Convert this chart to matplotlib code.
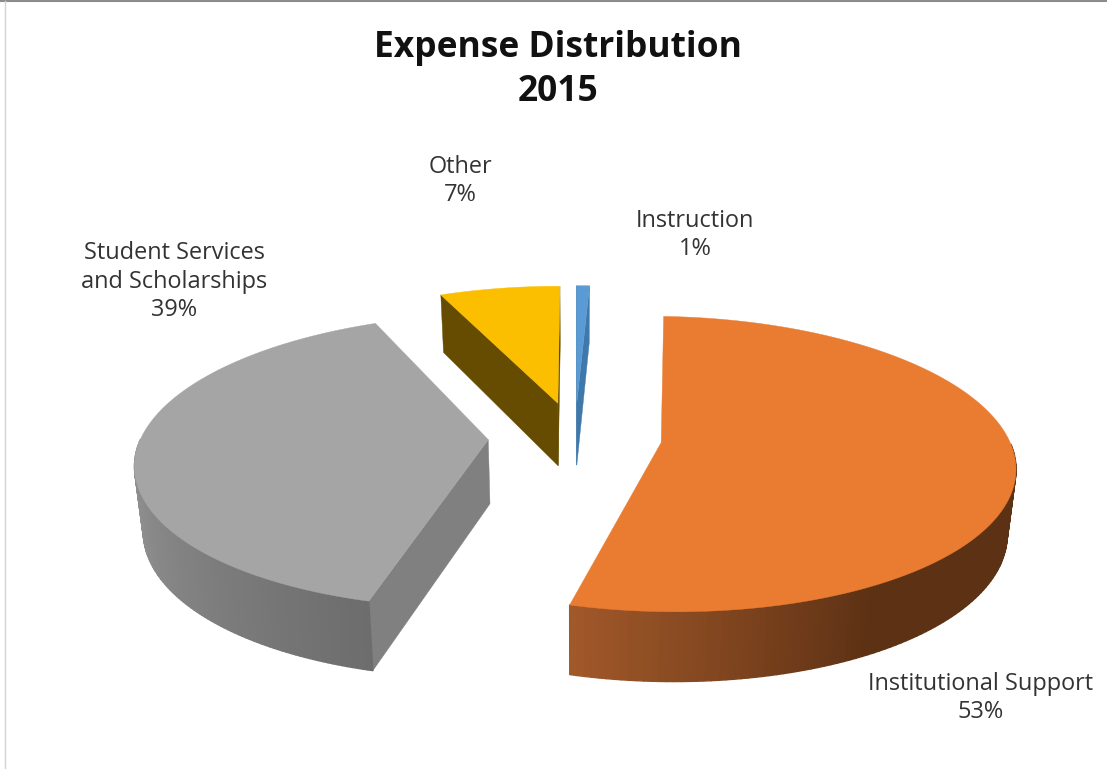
import numpy as np
import matplotlib
matplotlib.use("Agg")
import matplotlib.pyplot as plt
from matplotlib.colors import to_rgb
from matplotlib.collections import PolyCollection

plt.rcParams['font.family'] = ['Open Sans', 'DejaVu Sans']

categories = ['Instruction', 'Institutional Support', 'Student Services\nand Scholarships', 'Other']
# the labels round them to 1, 53, 39, 7
percents = [0.7, 53.49, 39.25, 6.56]
top_colors = ['#5b9bd5', '#ea7c31', '#a5a5a5', '#fbbf00']
cut_colors = ['#3f78ab', '#5d3114', '#808080', '#664c00']
rim_light = ['#3f78ab', '#a3592a', '#9c9c9c', '#664c00']
rim_dark = ['#3f78ab', '#5d3114', '#6d6d6d', '#664c00']
# angle range (degrees) over which the rim goes from dark to light
rim_fade = [(0, 360), (150, 195), (195, 275), (0, 360)]
label_pos = [(695, 235), (981, 698), (174.5, 281.5), (460, 181)]

# projection of the pie plane on to the picture
cx, cy = 575, 437
ax_a, ax_b = 347, 143
persp = 0.145
explode = 0.25
depth = 64


def project(x, y, z=0.0):
    w = 1 + persp * y
    shrink = 1 - 0.02 * z
    px = cx + ax_a * x / w * shrink
    py = cy - ax_b * y / w + z * depth * (1 - 0.6 * persp * y)
    return px, py


def faces_viewer(apex, rim, inner):
    # a cut face shows when the slice lies on the far side of its edge from the extrusion
    dx, dy = rim[0] - apex[0], rim[1] - apex[1]
    down = dx * 1.0
    side = dx * (inner[1] - apex[1]) - dy * (inner[0] - apex[0])
    return down * side < 0


fig = plt.figure(figsize=(11.07, 7.69), dpi=100)
ax = fig.add_axes([0, 0, 1, 1])
ax.set_xlim(0, 1107)
ax.set_ylim(769, 0)
ax.axis('off')

# picture frame bits left from the screenshot
ax.plot([0, 1107], [1, 1], color='#8c8c8c', lw=1.5)
ax.plot([4.5, 4.5], [1, 769], color='#d4d4d4', lw=1)

ends = np.cumsum(percents) * 3.6
starts = ends - np.array(percents) * 3.6

for i in range(len(percents)):
    a0, a1 = starts[i], ends[i]
    mid = np.radians((a0 + a1) / 2)
    ex, ey = explode * np.sin(mid), explode * np.cos(mid)
    th = np.radians(np.linspace(a0, a1, 180))
    xs, ys = ex + np.sin(th), ey + np.cos(th)
    apex = project(ex, ey)
    inner = project(ex + 0.5 * np.sin(mid), ey + 0.5 * np.cos(mid))

    for k in (0, -1):
        rim = project(xs[k], ys[k])
        if faces_viewer(apex, rim, inner):
            face = [apex, rim, project(xs[k], ys[k], 1), project(ex, ey, 1)]
            ax.fill(*zip(*face), color=cut_colors[i], lw=0.3)

    # rim, cut into small quads to get the gradient, back ones first
    light, dark = np.array(to_rgb(rim_light[i])), np.array(to_rgb(rim_dark[i]))
    f0, f1 = rim_fade[i]
    quads, cols = [], []
    for j in np.argsort(-np.cos(th[:-1])):
        if np.cos(th[j]) > 0:
            continue
        p1 = project(xs[j], ys[j])
        p2 = project(xs[j + 1], ys[j + 1])
        p3 = project(xs[j + 1], ys[j + 1], 1)
        p4 = project(xs[j], ys[j], 1)
        quads.append([p1, p2, p3, p4])
        t = np.clip((np.degrees(th[j]) - f0) / (f1 - f0), 0, 1)
        cols.append(dark + (light - dark) * t)
    if quads:
        ax.add_collection(PolyCollection(quads, facecolors=cols, edgecolors=cols, linewidths=1.0))

    # top of the slice
    outline = [apex] + [project(a, b) for a, b in zip(xs, ys)]
    ax.fill(*zip(*outline), color=top_colors[i], lw=0.3)

    text = '%s\n%d%%' % (categories[i], round(percents[i]))
    ax.text(label_pos[i][0], label_pos[i][1], text, ha='center', va='center',
            fontsize=16.9, color='#333333', linespacing=1.25)

ax.text(558, 70, 'Expense Distribution\n2015', ha='center', va='center',
        fontsize=25.5, fontweight='bold', color='#111111', linespacing=1.3)

fig.savefig('out.png', dpi=100)
